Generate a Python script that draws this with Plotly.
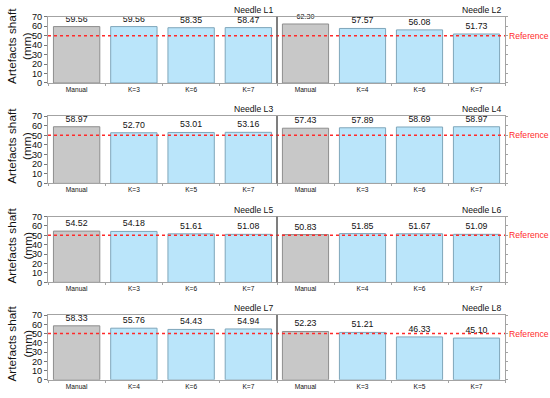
import plotly.graph_objects as go

# ---------------- data ----------------
needles = ["Needle L1", "Needle L2", "Needle L3", "Needle L4",
           "Needle L5", "Needle L6", "Needle L7", "Needle L8"]
categories = [
    ["Manual", "K=3", "K=6", "K=7"],
    ["Manual", "K=4", "K=6", "K=7"],
    ["Manual", "K=3", "K=5", "K=7"],
    ["Manual", "K=3", "K=6", "K=7"],
    ["Manual", "K=3", "K=6", "K=7"],
    ["Manual", "K=4", "K=6", "K=7"],
    ["Manual", "K=4", "K=6", "K=7"],
    ["Manual", "K=3", "K=5", "K=7"],
]
values = [
    [59.56, 59.56, 58.35, 58.47],
    [62.30, 57.57, 56.08, 51.73],
    [58.97, 52.70, 53.01, 53.16],
    [57.43, 57.89, 58.69, 58.97],
    [54.52, 54.18, 51.61, 51.08],
    [50.83, 51.85, 51.67, 51.09],
    [58.33, 55.76, 54.43, 54.94],
    [52.23, 51.21, 46.33, 45.10],
]
reference_value = 50
y_range = [0, 70]
y_tick_vals = [0, 10, 20, 30, 40, 50, 60, 70]
y_title = "Artefacts shaft<br>(mm)"
ref_label = "Reference"

# ---------------- style / layout ----------------
W, H = 550, 398
FONT = "Liberation Sans, Arial, sans-serif"
col_px = [(48, 277), (277, 505)]
row_px = [(12, 80), (114, 183), (217, 284.5), (318, 384.5)]
GREY_FILL, GREY_LINE = "#c8c8c8", "#8e8e8e"
BLUE_FILL, BLUE_LINE = "#bae5fa", "#7fa6ba"
FRAME = "#a3a3a3"
DIVIDER = "#5a5a5a"
RED = "#ff2a2a"


def px_x(p):
    return p / W


def px_y(p):
    return 1 - p / H


fig = go.Figure()
layout = {}
shapes = []
annotations = []

for i, (name, cats, vals) in enumerate(zip(needles, categories, values)):
    r, c = divmod(i, 2)
    n = i + 1
    xa = "x" if n == 1 else f"x{n}"
    ya = "y" if n == 1 else f"y{n}"
    fills = [GREY_FILL if k == "Manual" else BLUE_FILL for k in cats]
    lines = [GREY_LINE if k == "Manual" else BLUE_LINE for k in cats]
    tsize = [7.2 if v > 60 else 8.8 for v in vals]
    fig.add_trace(go.Bar(
        x=cats, y=vals, xaxis=xa, yaxis=ya,
        marker=dict(color=fills, line=dict(color=lines, width=1)),
        text=[f"{v:.2f}" for v in vals], textposition="outside",
        textfont=dict(size=tsize, color="#111111", family=FONT),
        cliponaxis=False, width=0.81, showlegend=False,
        hoverinfo="x+y",
    ))
    x0, x1 = col_px[c]
    y0, y1 = row_px[r]
    layout["xaxis" if n == 1 else f"xaxis{n}"] = dict(
        domain=[px_x(x0), px_x(x1)], anchor=ya,
        showline=True, linecolor=FRAME, linewidth=1, mirror=True,
        ticks="outside", ticklen=2, tickcolor=FRAME, tickson="boundaries",
        tickfont=dict(size=6.6, color="#111111", family=FONT),
        showgrid=False, zeroline=False, fixedrange=True,
    )
    yax = dict(
        domain=[px_y(y1), px_y(y0)], anchor=xa, range=y_range,
        tickvals=y_tick_vals, showgrid=False, zeroline=False,
        showline=True, linecolor=FRAME, linewidth=1, mirror=True,
        ticks="outside", ticklen=3, tickcolor="#777777",
        tickfont=dict(size=9.2, color="#111111", family=FONT),
        fixedrange=True,
    )
    if c == 1:
        yax.update(side="right", showticklabels=False, ticklen=2,
                   tickcolor=FRAME)
    layout["yaxis" if n == 1 else f"yaxis{n}"] = yax

    # needle title, top right above panel
    annotations.append(dict(
        x=px_x(x1 - 2), y=px_y(y0), xref="paper", yref="paper",
        xanchor="right", yanchor="bottom", yshift=0,
        text=name, showarrow=False,
        font=dict(size=8.6, color="#111111", family=FONT),
    ))

    if c == 0:
        # reference line across the row
        shapes.append(dict(
            type="line", xref="paper", yref=ya,
            x0=px_x(col_px[0][0]), x1=px_x(col_px[1][1]),
            y0=reference_value, y1=reference_value,
            line=dict(color=RED, width=1.5, dash="dot"),
        ))
        # divider between panels
        shapes.append(dict(
            type="line", xref="paper", yref="paper",
            x0=px_x(col_px[0][1]), x1=px_x(col_px[0][1]),
            y0=px_y(y1), y1=px_y(y0),
            line=dict(color=DIVIDER, width=1),
        ))
        annotations.append(dict(
            x=px_x(col_px[1][1] + 2), y=reference_value, xref="paper", yref=ya,
            xanchor="left", yanchor="middle", text=ref_label, showarrow=False,
            font=dict(size=8.6, color=RED, family=FONT),
        ))
        # y-axis title
        annotations.append(dict(
            x=px_x(20), y=px_y((y0 + y1) / 2 - 4), xref="paper", yref="paper",
            xanchor="center", yanchor="middle", textangle=-90,
            text=y_title, showarrow=False,
            font=dict(size=11.8, color="#111111", family=FONT),
        ))

fig.update_layout(
    width=W, height=H,
    margin=dict(l=0, r=0, t=0, b=0),
    paper_bgcolor="white", plot_bgcolor="white",
    bargap=0.19, shapes=shapes, annotations=annotations,
    font=dict(family=FONT, color="#111111"),
    **layout,
)

fig.write_html("out.html", config={"displayModeBar": False})

# remove the browser's default body margin so the figure sits at (0, 0)
with open("out.html", encoding="utf-8") as f:
    html = f.read()
html = html.replace("<body>", '<body style="margin:0;overflow:hidden">', 1)
with open("out.html", "w", encoding="utf-8") as f:
    f.write(html)
